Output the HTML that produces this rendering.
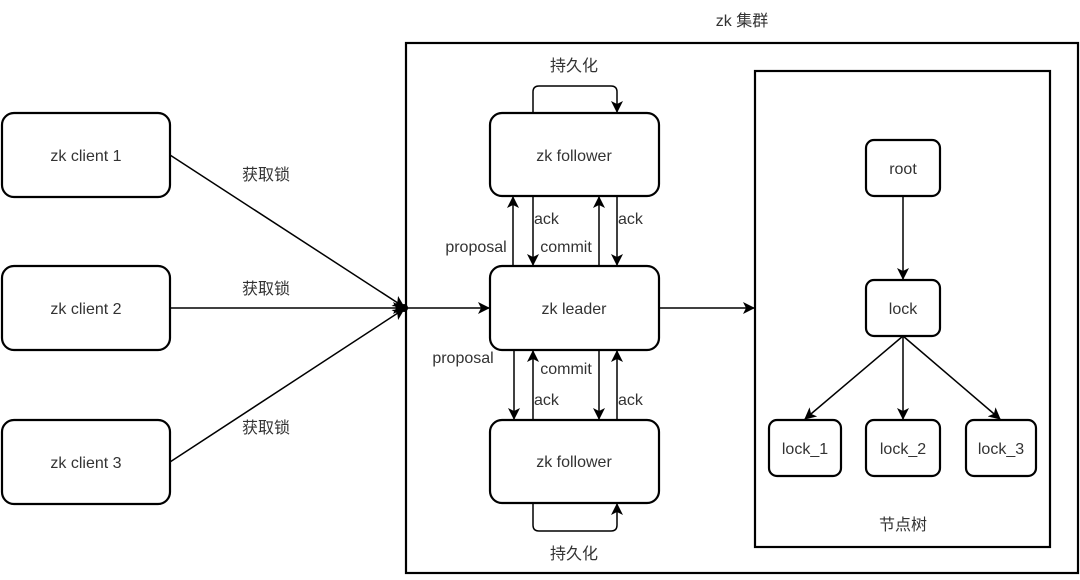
<!DOCTYPE html>
<html><head><meta charset="utf-8"><style>
body{margin:0;background:#fff;}
svg text{font-family:"Liberation Sans","Noto Sans CJK SC",sans-serif;fill:#333;font-size:16px;}
</style></head><body>
<svg width="1080" height="575" viewBox="0 0 1080 575" xmlns="http://www.w3.org/2000/svg">
<defs>
<marker id="a" markerWidth="12" markerHeight="12" refX="11" refY="6" orient="auto" markerUnits="userSpaceOnUse">
<path d="M0,0 L12,6 L0,12 L3,6 Z" fill="#000"/></marker>
</defs>
<g fill="none" stroke="#000" stroke-width="2.2">
<rect x="406" y="43" width="672" height="530"/>
<rect x="755" y="71" width="295" height="476"/>
<rect x="2" y="113" width="168" height="84" rx="12"/>
<rect x="2" y="266" width="168" height="84" rx="12"/>
<rect x="2" y="420" width="168" height="84" rx="12"/>
<rect x="490" y="113" width="169" height="83" rx="12"/>
<rect x="490" y="266" width="169" height="84" rx="12"/>
<rect x="490" y="420" width="169" height="83" rx="12"/>
<rect x="866" y="140" width="74" height="56" rx="8"/>
<rect x="866" y="280" width="74" height="56" rx="8"/>
<rect x="769" y="420" width="72" height="56" rx="8"/>
<rect x="866" y="420" width="74" height="56" rx="8"/>
<rect x="966" y="420" width="70" height="56" rx="8"/>
</g>
<g stroke="#000" stroke-width="1.5" fill="none" marker-end="url(#a)">
<line x1="170" y1="155" x2="404" y2="307"/>
<line x1="170" y1="308" x2="404" y2="308"/>
<line x1="170" y1="462" x2="404" y2="309"/>
<line x1="406" y1="308" x2="489" y2="308"/>
<line x1="659" y1="308" x2="754" y2="308"/>
<line x1="513" y1="266" x2="513" y2="197"/>
<line x1="533" y1="196" x2="533" y2="265"/>
<line x1="599" y1="266" x2="599" y2="197"/>
<line x1="617" y1="196" x2="617" y2="265"/>
<line x1="514" y1="350" x2="514" y2="419"/>
<line x1="533" y1="420" x2="533" y2="351"/>
<line x1="599" y1="350" x2="599" y2="419"/>
<line x1="617" y1="420" x2="617" y2="351"/>
<path d="M533,113 V92 Q533,86 539,86 H611 Q617,86 617,92 V112"/>
<path d="M533,503 V525 Q533,531 539,531 H611 Q617,531 617,525 V504"/>
<line x1="903" y1="196" x2="903" y2="279"/>
<line x1="903" y1="336" x2="805" y2="419"/>
<line x1="903" y1="336" x2="903" y2="419"/>
<line x1="903" y1="336" x2="1000" y2="419"/>
</g>
<circle cx="404" cy="308" r="4" fill="#000"/>
<g text-anchor="middle">
<text x="86" y="161">zk client 1</text>
<text x="86" y="314">zk client 2</text>
<text x="86" y="468">zk client 3</text>
<text x="574" y="161">zk follower</text>
<text x="574" y="314">zk leader</text>
<text x="574" y="467">zk follower</text>
<text x="903" y="174">root</text>
<text x="903" y="314">lock</text>
<text x="805" y="454">lock_1</text>
<text x="903" y="454">lock_2</text>
<text x="1001" y="454">lock_3</text>
<text x="266" y="180">获取锁</text>
<text x="266" y="294">获取锁</text>
<text x="266" y="433">获取锁</text>
<text x="742" y="26">zk 集群</text>
<text x="574" y="71">持久化</text>
<text x="574" y="559">持久化</text>
<text x="903" y="530">节点树</text>
<text x="476" y="252">proposal</text>
<text x="463" y="363">proposal</text>
<text x="566" y="252">commit</text>
<text x="566" y="374">commit</text>
</g>
<text x="534" y="224">ack</text>
<text x="618" y="224">ack</text>
<text x="534" y="405">ack</text>
<text x="618" y="405">ack</text>
</svg>
</body></html>
